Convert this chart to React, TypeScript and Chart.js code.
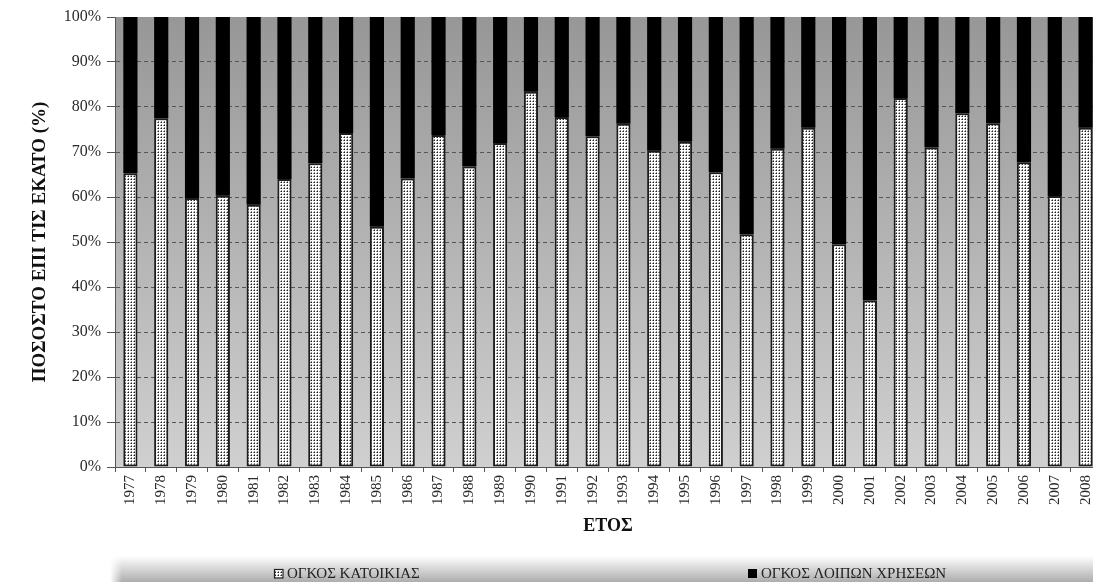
import React, { useEffect, useRef } from "react";
import { Chart, registerables } from "chart.js";

Chart.register(...registerables);

const years = [
  "1977", "1978", "1979", "1980", "1981", "1982", "1983", "1984",
  "1985", "1986", "1987", "1988", "1989", "1990", "1991", "1992",
  "1993", "1994", "1995", "1996", "1997", "1998", "1999", "2000",
  "2001", "2002", "2003", "2004", "2005", "2006", "2007", "2008",
];

// ΟΓΚΟΣ ΚΑΤΟΙΚΙΑΣ (%)
const housing = [
  65.3, 77.5, 59.8, 60.3, 58.3, 64.0, 67.5, 74.2,
  53.4, 64.1, 73.8, 66.8, 72.0, 83.4, 77.8, 73.5,
  76.3, 70.3, 72.3, 65.5, 51.7, 70.7, 75.4, 49.5,
  37.0, 82.0, 71.0, 78.6, 76.4, 67.7, 60.2, 75.4,
];

// ΟΓΚΟΣ ΛΟΙΠΩΝ ΧΡΗΣΕΩΝ (%)
const otherUses = [
  34.7, 22.5, 40.2, 39.7, 41.7, 36.0, 32.5, 25.8,
  46.6, 35.9, 26.2, 33.2, 28.0, 16.6, 22.2, 26.5,
  23.7, 29.7, 27.7, 34.5, 48.3, 29.3, 24.6, 50.5,
  63.0, 18.0, 29.0, 21.4, 23.6, 32.3, 39.8, 24.6,
];

const seriesLabels = ["ΟΓΚΟΣ ΚΑΤΟΙΚΙΑΣ", "ΟΓΚΟΣ ΛΟΙΠΩΝ ΧΡΗΣΕΩΝ"];
const yTitle = "ΠΟΣΟΣΤΟ ΕΠΙ ΤΙΣ ΕΚΑΤΟ (%)";
const xTitle = "ΕΤΟΣ";
const yTickValues = [0, 10, 20, 30, 40, 50, 60, 70, 80, 90, 100];

const SERIF = "'Liberation Serif', 'Times New Roman', serif";

function makePattern(): CanvasPattern | string {
  const c = document.createElement("canvas");
  c.width = 3;
  c.height = 3;
  const g = c.getContext("2d");
  if (!g) return "#dddddd";
  g.fillStyle = "#ffffff";
  g.fillRect(0, 0, 3, 3);
  g.fillStyle = "#8a8a8a";
  g.fillRect(2, 1, 1, 1);
  g.fillRect(1, 2, 1, 1);
  g.fillStyle = "#1e1e1e";
  g.fillRect(2, 2, 1, 1);
  const p = g.createPattern(c, "repeat");
  return p || "#dddddd";
}

export default function App() {
  const ref = useRef<HTMLCanvasElement | null>(null);

  useEffect(() => {
    const canvas = ref.current;
    if (!canvas) return;
    const pattern = makePattern();

    const bgPlugin = {
      id: "plotBg",
      beforeDraw(chart: any) {
        const { ctx, chartArea } = chart;
        const { left, top, right, bottom } = chartArea;
        const g = ctx.createLinearGradient(0, top, 0, bottom);
        g.addColorStop(0, "#979797");
        g.addColorStop(1, "#d0d0d0");
        ctx.save();
        ctx.fillStyle = g;
        ctx.fillRect(left, top, right - left, bottom - top);
        ctx.restore();
      },
    };

    const legendPlugin = {
      id: "bandLegend",
      afterDraw(chart: any) {
        const { ctx, width } = chart;
        ctx.save();
        const g = ctx.createLinearGradient(0, 556, 0, 582);
        g.addColorStop(0, "rgba(255,255,255,1)");
        g.addColorStop(1, "#adadad");
        ctx.fillStyle = g;
        ctx.fillRect(110, 556, width - 110, 26);
        const gl = ctx.createLinearGradient(110, 0, 122, 0);
        gl.addColorStop(0, "rgba(255,255,255,1)");
        gl.addColorStop(1, "rgba(255,255,255,0)");
        ctx.fillStyle = gl;
        ctx.fillRect(110, 556, 12, 26);

        // item 1
        ctx.fillStyle = pattern as any;
        ctx.fillRect(274, 569, 9, 9);
        ctx.strokeStyle = "#222";
        ctx.lineWidth = 1.2;
        ctx.strokeRect(274.5, 569.5, 8.5, 8.5);
        ctx.fillStyle = "#222";
        ctx.font = `15px ${SERIF}`;
        ctx.textBaseline = "middle";
        ctx.textAlign = "left";
        ctx.fillText(seriesLabels[0], 287, 574);
        // item 2
        ctx.fillStyle = "#000";
        ctx.fillRect(748, 569, 9, 9);
        ctx.fillStyle = "#222";
        ctx.fillText(seriesLabels[1], 761, 574);
        ctx.restore();
      },
    };

    const chart = new Chart(canvas, {
      type: "bar",
      data: {
        labels: years,
        datasets: [
          {
            label: seriesLabels[0],
            data: housing,
            backgroundColor: pattern as any,
            borderColor: "#1c1c1c",
            borderWidth: 2,
            borderSkipped: false,
            barPercentage: 0.46,
            categoryPercentage: 1,
          },
          {
            label: seriesLabels[1],
            data: otherUses,
            backgroundColor: "#000000",
            borderWidth: 0,
            barPercentage: 0.46,
            categoryPercentage: 1,
          },
        ],
      },
      plugins: [bgPlugin, legendPlugin],
      options: {
        responsive: false,
        animation: false,
        layout: { padding: { left: 0, right: 0, top: 17, bottom: 45 } },
        plugins: {
          legend: { display: false },
          tooltip: { enabled: false },
          title: { display: false },
        },
        scales: {
          x: {
            stacked: true,
            offset: true,
            grid: {
              offset: true,
              drawOnChartArea: false,
              drawTicks: true,
              tickLength: 5,
              tickColor: "#555",
            },
            border: { display: true, color: "#555", width: 1 },
            ticks: {
              maxRotation: 90,
              minRotation: 90,
              autoSkip: false,
              padding: 3,
              color: "#2a2a2a",
              font: { family: SERIF, size: 15 },
            },
            title: {
              display: true,
              text: xTitle,
              color: "#111",
              font: { family: SERIF, size: 18, weight: "bold" },
              padding: { top: 0, bottom: 0 },
            },
            afterFit(scale: any) {
              scale.height = 70;
              scale.paddingLeft = 0;
              scale.paddingRight = 0;
            },
          },
          y: {
            stacked: true,
            min: 0,
            max: 100,
            afterBuildTicks(scale: any) {
              scale.ticks = yTickValues.map((v) => ({ value: v }));
            },
            ticks: {
              callback: (v: any) => `${v}%`,
              padding: 6,
              color: "#2a2a2a",
              font: { family: SERIF, size: 16 },
            },
            grid: {
              color: (ctx: any) =>
                ctx.tick && (ctx.tick.value === 0 || ctx.tick.value === 100)
                  ? "rgba(0,0,0,0)"
                  : "#555555",
              tickColor: "#555",
              tickLength: 8,
              lineWidth: 1,
            },
            border: { display: true, color: "#555", width: 1, dash: [4, 3] },
            title: {
              display: true,
              text: yTitle,
              color: "#111",
              font: { family: SERIF, size: 19, weight: "bold" },
              padding: { top: 29, bottom: 0 },
            },
            afterFit(scale: any) {
              scale.width = 115;
              scale.paddingTop = 0;
              scale.paddingBottom = 0;
            },
          },
        },
      },
    });

    return () => chart.destroy();
  }, []);

  return (
    <div
      style={{
        position: "fixed",
        left: 0,
        top: 0,
        width: 1093,
        height: 582,
        overflow: "hidden",
        background: "#ffffff",
      }}
    >
      <canvas ref={ref} width={1101} height={582} style={{ display: "block" }} />
    </div>
  );
}
